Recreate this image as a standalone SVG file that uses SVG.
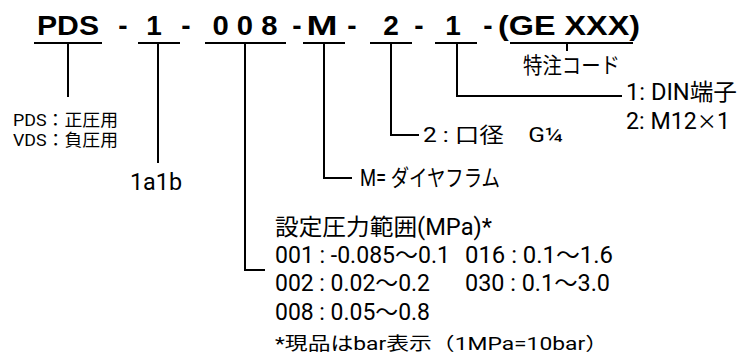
<svg xmlns="http://www.w3.org/2000/svg" width="739" height="358" viewBox="0 0 739 358">
<style>
.code{font-family:"Liberation Sans",Arial,sans-serif;font-weight:bold;font-size:28px;fill:#000;text-anchor:middle}
.lbl{font-family:Roboto,"Noto Sans CJK JP",sans-serif;fill:#000}
.cjk{font-family:"Noto Sans CJK JP",sans-serif}
.ln{stroke:#000;stroke-width:2;fill:none}
</style>
<rect width="739" height="358" fill="#fff"/>
<g id="code">
<text class="code" x="68" y="35" textLength="62" lengthAdjust="spacingAndGlyphs">PDS</text>
<text class="code" x="123" y="35">-</text>
<text class="code" x="154" y="35">1</text>
<text class="code" x="186" y="35">-</text>
<text class="code" x="245" y="35" textLength="65" lengthAdjust="spacingAndGlyphs">0 0 8</text>
<text class="code" x="297" y="35">-</text>
<text class="code" x="322" y="35" textLength="31" lengthAdjust="spacingAndGlyphs">M</text>
<text class="code" x="352" y="35">-</text>
<text class="code" x="391" y="35">2</text>
<text class="code" x="419" y="35">-</text>
<text class="code" x="453" y="35">1</text>
<text class="code" x="488" y="35">-</text>
<text class="code" x="569" y="35" textLength="142" lengthAdjust="spacingAndGlyphs">(GE XXX)</text>
</g>
<g id="connectors" class="ln">
<path d="M34 43H102M68 43V97"/>
<path d="M138 43H180M158 43V163"/>
<path d="M205 43H286M245 43V270H265"/>
<path d="M303 43H345M324 43V178H352"/>
<path d="M370 43H412M391 43V135H419"/>
<path d="M435 43H477M457 43V96H622"/>
<path d="M510 43H633M567 43V51"/>
</g>
<g id="n-series"><text class="lbl" font-size="17" x="13" y="126" textLength="105" lengthAdjust="spacingAndGlyphs">PDS：正圧用</text><text class="lbl" font-size="17" x="13" y="146" textLength="105" lengthAdjust="spacingAndGlyphs">VDS：負圧用</text></g>
<g id="n-contact"><text class="lbl" font-size="24" x="130" y="190" textLength="52" lengthAdjust="spacingAndGlyphs">1a1b</text></g>
<g id="n-range">
<text class="lbl" font-size="23" x="275" y="235" textLength="217" lengthAdjust="spacingAndGlyphs">設定圧力範囲(MPa)*</text>
<text class="lbl" font-size="23" x="275" y="263" textLength="175" lengthAdjust="spacingAndGlyphs">001 : -0.085～0.1</text>
<text class="lbl" font-size="23" x="275" y="291" textLength="155" lengthAdjust="spacingAndGlyphs">002 : 0.02～0.2</text>
<text class="lbl" font-size="23" x="275" y="320" textLength="155" lengthAdjust="spacingAndGlyphs">008 : 0.05～0.8</text>
<text class="lbl" font-size="23" x="465" y="263" textLength="148" lengthAdjust="spacingAndGlyphs">016 : 0.1～1.6</text>
<text class="lbl" font-size="23" x="465" y="291" textLength="145" lengthAdjust="spacingAndGlyphs">030 : 0.1～3.0</text>
<text class="lbl" font-size="18" x="275" y="350" textLength="333" lengthAdjust="spacingAndGlyphs">*現品はbar表示（1MPa=10bar）</text>
</g>
<g id="n-material"><text class="lbl" font-size="23" x="360" y="186" textLength="140" lengthAdjust="spacingAndGlyphs">M= ダイヤフラム</text></g>
<g id="n-port"><text class="lbl" font-size="21" x="423" y="142" textLength="140" lengthAdjust="spacingAndGlyphs">2 : 口径　G¼</text></g>
<g id="n-conn"><text class="lbl" font-size="23" x="626" y="100" textLength="111" lengthAdjust="spacingAndGlyphs">1: DIN端子</text><text class="lbl" font-size="23" x="626" y="129" textLength="104" lengthAdjust="spacingAndGlyphs">2: M12<tspan class="cjk" font-size="20">×</tspan>1</text></g>
<g id="n-special"><text class="lbl" font-size="22" x="523" y="73" textLength="97" lengthAdjust="spacingAndGlyphs">特注コード</text></g>
</svg>
